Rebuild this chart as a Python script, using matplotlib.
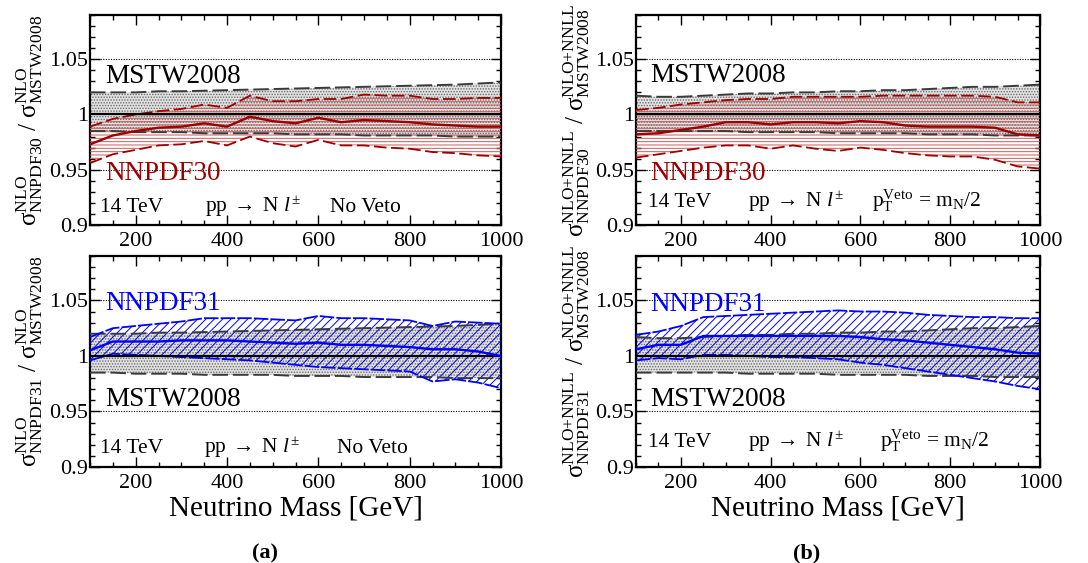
import matplotlib
matplotlib.use("Agg")
import matplotlib.pyplot as plt
from matplotlib.ticker import MultipleLocator, FixedLocator, FixedFormatter
import numpy as np

plt.rcParams['font.family'] = ['Liberation Serif', 'DejaVu Serif']
plt.rcParams['mathtext.fontset'] = 'custom'
plt.rcParams['mathtext.rm'] = 'Liberation Serif'
plt.rcParams['mathtext.it'] = 'Liberation Serif:italic'
plt.rcParams['mathtext.bf'] = 'Liberation Serif:bold'
plt.rcParams['hatch.linewidth'] = 0.7

# ---------------- data ----------------
mass = [100, 150, 200, 250, 300, 350, 400, 450, 500, 550, 600, 650, 700, 750, 800, 850, 900, 950, 1000]

# NLO, MSTW2008 PDF uncertainty band (ratio to MSTW2008 central)
mstw_nlo_up = [1.020, 1.020, 1.020, 1.021, 1.021, 1.0215, 1.022, 1.0225, 1.023, 1.0235, 1.024, 1.0245, 1.025, 1.0255, 1.026, 1.0265, 1.027, 1.028, 1.029]
mstw_nlo_lo = [0.985, 0.985, 0.984, 0.984, 0.984, 0.983, 0.983, 0.983, 0.983, 0.982, 0.982, 0.982, 0.981, 0.981, 0.981, 0.981, 0.980, 0.980, 0.980]

# NLO, NNPDF30
nn30_nlo_c = [0.973, 0.981, 0.985, 0.988, 0.989, 0.992, 0.989, 0.998, 0.994, 0.992, 0.997, 0.993, 0.995, 0.994, 0.993, 0.991, 0.990, 0.989, 0.989]
nn30_nlo_up = [0.989, 0.996, 1.000, 1.003, 1.005, 1.009, 1.006, 1.017, 1.012, 1.012, 1.014, 1.014, 1.018, 1.017, 1.017, 1.014, 1.014, 1.015, 1.015]
nn30_nlo_lo = [0.956, 0.964, 0.968, 0.972, 0.973, 0.976, 0.972, 0.980, 0.974, 0.971, 0.977, 0.972, 0.972, 0.970, 0.969, 0.966, 0.965, 0.963, 0.962]

# NLO, NNPDF31
nn31_nlo_c = [1.005, 1.013, 1.013, 1.013, 1.014, 1.014, 1.014, 1.013, 1.012, 1.011, 1.012, 1.010, 1.010, 1.009, 1.008, 1.006, 1.006, 1.004, 1.000]
nn31_nlo_up = [1.017, 1.025, 1.027, 1.029, 1.031, 1.034, 1.034, 1.034, 1.033, 1.032, 1.036, 1.034, 1.034, 1.033, 1.032, 1.027, 1.031, 1.030, 1.029]
nn31_nlo_lo = [0.996, 1.002, 1.001, 1.000, 0.999, 0.998, 0.997, 0.996, 0.994, 0.992, 0.990, 0.989, 0.988, 0.987, 0.986, 0.977, 0.979, 0.976, 0.971]

# NLO+NNLL (pT veto = mN/2), MSTW2008
mstw_nnll_up = [1.017, 1.016, 1.016, 1.017, 1.018, 1.019, 1.019, 1.020, 1.020, 1.021, 1.021, 1.022, 1.022, 1.023, 1.024, 1.025, 1.025, 1.026, 1.027]
mstw_nnll_lo = [0.985, 0.985, 0.985, 0.985, 0.985, 0.984, 0.984, 0.984, 0.984, 0.983, 0.983, 0.983, 0.983, 0.982, 0.982, 0.982, 0.981, 0.981, 0.981]

# NLO+NNLL, NNPDF30
nn30_nnll_c = [0.982, 0.983, 0.986, 0.989, 0.993, 0.993, 0.991, 0.993, 0.993, 0.992, 0.994, 0.993, 0.990, 0.989, 0.989, 0.989, 0.988, 0.982, 0.981]
nn30_nnll_up = [1.004, 1.006, 1.009, 1.011, 1.013, 1.014, 1.014, 1.016, 1.016, 1.016, 1.016, 1.017, 1.017, 1.017, 1.017, 1.017, 1.016, 1.011, 1.011]
nn30_nnll_lo = [0.961, 0.964, 0.967, 0.970, 0.972, 0.972, 0.969, 0.972, 0.969, 0.967, 0.970, 0.968, 0.965, 0.963, 0.962, 0.962, 0.959, 0.953, 0.951]

# NLO+NNLL, NNPDF31
nn31_nnll_c = [1.006, 1.010, 1.010, 1.018, 1.018, 1.018, 1.018, 1.018, 1.018, 1.018, 1.017, 1.015, 1.014, 1.012, 1.010, 1.008, 1.006, 1.003, 1.002]
nn31_nnll_up = [1.019, 1.022, 1.027, 1.035, 1.036, 1.037, 1.038, 1.039, 1.040, 1.041, 1.040, 1.040, 1.039, 1.037, 1.036, 1.035, 1.035, 1.034, 1.034]
nn31_nnll_lo = [0.996, 0.998, 0.997, 1.001, 1.001, 1.000, 0.999, 0.999, 0.998, 0.997, 0.994, 0.992, 0.989, 0.986, 0.983, 0.980, 0.977, 0.973, 0.970]

x_ticks = [200, 400, 600, 800, 1000]
y_ticks = [0.9, 0.95, 1.0, 1.05]
y_tick_labels = ['0.9', '0.95', '1', '1.05']

RED = '#9c0000'
BLUE = '#0000ff'
GRAY_EDGE = '#3a3a3a'

fig = plt.figure(figsize=(10.88, 5.63), dpi=100)

W, H = 1088.0, 563.0
def axes_px(left, top, right, bottom):
    return fig.add_axes([left / W, 1 - bottom / H, (right - left) / W, (bottom - top) / H])

ax_tl = axes_px(90, 15, 501, 225)
ax_bl = axes_px(90, 256, 501, 467)
ax_tr = axes_px(636, 15, 1040, 225)
ax_br = axes_px(636, 256, 1040, 467)

def style(ax):
    ax.set_xlim(100, 1000)
    ax.set_ylim(0.9, 1.09)
    ax.xaxis.set_major_locator(FixedLocator(x_ticks))
    ax.xaxis.set_minor_locator(MultipleLocator(50))
    ax.yaxis.set_major_locator(FixedLocator(y_ticks))
    ax.yaxis.set_major_formatter(FixedFormatter(y_tick_labels))
    ax.yaxis.set_minor_locator(MultipleLocator(0.01))
    ax.tick_params(which='both', direction='in', top=True, right=True, width=1.0, colors='black')
    ax.tick_params(which='major', length=7.5)
    ax.tick_params(which='minor', length=3.8)
    ax.tick_params(axis='x', which='major', labelsize=16, pad=5.0)
    ax.tick_params(axis='y', which='major', labelsize=16, pad=1.5)
    for s in ax.spines.values():
        s.set_linewidth(1.6)
    for yv in (0.95, 1.05):
        ax.axhline(yv, color='black', lw=0.8, ls=(0, (1, 1.3)), zorder=1)

def draw_panel(ax, m_up, m_lo, c, up, lo, other):
    # MSTW band (dotted stipple)
    ax.fill_between(mass, m_lo, m_up, facecolor='#e2e2e2', edgecolor='#6a6a6a', hatch='......', lw=0, zorder=2)
    if other == 'nn30':
        ax.fill_between(mass, lo, up, facecolor='none', edgecolor='#c85a5a', hatch='-----', lw=0, zorder=3)
        col = RED
        ax.plot(mass, up, color=col, lw=1.3, ls=(0, (7, 2.5)), zorder=5)
        ax.plot(mass, lo, color=col, lw=1.3, ls=(0, (7, 2.5)), zorder=5)
    else:
        ax.fill_between(mass, lo, up, facecolor='none', edgecolor=BLUE, hatch='////', lw=0, zorder=3)
        col = BLUE
        ax.plot(mass, up, color=col, lw=1.3, ls=(0, (8, 1.2)), zorder=5)
        ax.plot(mass, lo, color=col, lw=1.3, ls=(0, (8, 1.2)), zorder=5)
    ax.plot(mass, m_up, color=GRAY_EDGE, lw=1.4, ls=(0, (8, 2.5)), zorder=4)
    ax.plot(mass, m_lo, color=GRAY_EDGE, lw=1.4, ls=(0, (8, 2.5)), zorder=4)
    ax.axhline(1.0, color='black', lw=1.6, zorder=6)
    ax.plot(mass, c, color=col, lw=1.7, zorder=7)

for ax in (ax_tl, ax_bl, ax_tr, ax_br):
    style(ax)

draw_panel(ax_tl, mstw_nlo_up, mstw_nlo_lo, nn30_nlo_c, nn30_nlo_up, nn30_nlo_lo, 'nn30')
draw_panel(ax_bl, mstw_nlo_up, mstw_nlo_lo, nn31_nlo_c, nn31_nlo_up, nn31_nlo_lo, 'nn31')
draw_panel(ax_tr, mstw_nnll_up, mstw_nnll_lo, nn30_nnll_c, nn30_nnll_up, nn30_nnll_lo, 'nn30')
draw_panel(ax_br, mstw_nnll_up, mstw_nnll_lo, nn31_nnll_c, nn31_nnll_up, nn31_nnll_lo, 'nn31')

# labels inside panels
big = 19.5
small = 15.5
proc = r'pp$\;\rightarrow\;$N $\mathit{l}^{\pm}$'
veto = r'$\mathrm{p_{T}^{Veto}}$ = $\mathrm{m_{N}}$/2'

ax_tl.text(0.036, 0.676, 'MSTW2008', transform=ax_tl.transAxes, fontsize=big, va='baseline', color='black')
ax_tl.text(0.036, 0.214, 'NNPDF30', transform=ax_tl.transAxes, fontsize=big, va='baseline', color=RED)
ax_tl.text(0.024, 0.062, '14 TeV', transform=ax_tl.transAxes, fontsize=small, va='baseline')
ax_tl.text(0.28, 0.062, proc, transform=ax_tl.transAxes, fontsize=small, va='baseline')
ax_tl.text(0.584, 0.062, 'No Veto', transform=ax_tl.transAxes, fontsize=small, va='baseline')

ax_bl.text(0.036, 0.743, 'NNPDF31', transform=ax_bl.transAxes, fontsize=big, va='baseline', color=BLUE)
ax_bl.text(0.036, 0.29, 'MSTW2008', transform=ax_bl.transAxes, fontsize=big, va='baseline', color='black')
ax_bl.text(0.024, 0.068, '14 TeV', transform=ax_bl.transAxes, fontsize=small, va='baseline')
ax_bl.text(0.277, 0.068, proc, transform=ax_bl.transAxes, fontsize=small, va='baseline')
ax_bl.text(0.60, 0.068, 'No Veto', transform=ax_bl.transAxes, fontsize=small, va='baseline')

ax_tr.text(0.035, 0.682, 'MSTW2008', transform=ax_tr.transAxes, fontsize=big, va='baseline', color='black')
ax_tr.text(0.035, 0.214, 'NNPDF30', transform=ax_tr.transAxes, fontsize=big, va='baseline', color=RED)
ax_tr.text(0.03, 0.086, '14 TeV', transform=ax_tr.transAxes, fontsize=small, va='baseline')
ax_tr.text(0.277, 0.086, proc, transform=ax_tr.transAxes, fontsize=small, va='baseline')
ax_tr.text(0.584, 0.086, veto, transform=ax_tr.transAxes, fontsize=small, va='baseline')

ax_br.text(0.035, 0.737, 'NNPDF31', transform=ax_br.transAxes, fontsize=big, va='baseline', color=BLUE)
ax_br.text(0.035, 0.29, 'MSTW2008', transform=ax_br.transAxes, fontsize=big, va='baseline', color='black')
ax_br.text(0.03, 0.094, '14 TeV', transform=ax_br.transAxes, fontsize=small, va='baseline')
ax_br.text(0.277, 0.094, proc, transform=ax_br.transAxes, fontsize=small, va='baseline')
ax_br.text(0.604, 0.094, veto, transform=ax_br.transAxes, fontsize=small, va='baseline')

# y labels
ylabels = {
    ax_tl: r'$\mathrm{\sigma^{NLO}_{NNPDF30}}$ / $\mathrm{\sigma^{NLO}_{MSTW2008}}$',
    ax_bl: r'$\mathrm{\sigma^{NLO}_{NNPDF31}}$ / $\mathrm{\sigma^{NLO}_{MSTW2008}}$',
    ax_tr: r'$\mathrm{\sigma^{NLO{+}NNLL}_{NNPDF30}}$ / $\mathrm{\sigma^{NLO{+}NNLL}_{MSTW2008}}$',
    ax_br: r'$\mathrm{\sigma^{NLO{+}NNLL}_{NNPDF31}}$ / $\mathrm{\sigma^{NLO{+}NNLL}_{MSTW2008}}$',
}
for ax, lab in ylabels.items():
    ax.set_ylabel(lab, fontsize=18, ha='center', va='center')
ax_tl.yaxis.set_label_coords(-0.146, 0.5)
ax_bl.yaxis.set_label_coords(-0.146, 0.5)
ax_tr.yaxis.set_label_coords(-0.146, 0.5)
ax_br.yaxis.set_label_coords(-0.146, 0.5)

# x labels
for ax in (ax_bl, ax_br):
    ax.set_xlabel('Neutrino Mass [GeV]', fontsize=21, va='baseline')
    ax.xaxis.set_label_coords(0.5, -(515 - 467) / 211.0)

fig.text(265 / W, 1 - 558 / H, '(a)', fontsize=16, fontweight='bold', ha='center', va='baseline')
fig.text(807 / W, 1 - 558 / H, '(b)', fontsize=16, fontweight='bold', ha='center', va='baseline')

fig.savefig('out.png', dpi=100)
